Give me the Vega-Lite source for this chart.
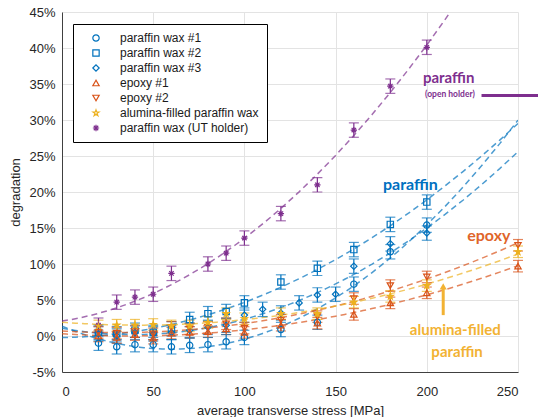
{
  "$schema": "https://vega.github.io/schema/vega-lite/v6.json",
  "width": 456,
  "height": 360,
  "autosize": {"type": "none"},
  "padding": {"left": 62, "top": 12, "right": 20, "bottom": 45},
  "background": "white",
  "config": {
    "view": {"stroke": null},
    "font": "Liberation Sans",
    "axis": {
      "gridColor": "#e3e3e3",
      "domainColor": "#404040",
      "tickColor": "#404040",
      "labelColor": "#262626",
      "titleColor": "#262626",
      "labelFontSize": 13,
      "titleFontSize": 13,
      "titleFontWeight": "normal",
      "labelFont": "Liberation Sans",
      "titleFont": "Liberation Sans",
      "labelOverlap": false,
      "ticks": false
    }
  },
  "resolve": {"legend": {"color": "independent", "shape": "independent"}},
  "datasets": {
    "pts": [
      {"series": "paraffin wax #1", "x": 20, "y": -1.0, "err": 1.0},
      {"series": "paraffin wax #1", "x": 30, "y": -1.5, "err": 1.0},
      {"series": "paraffin wax #1", "x": 40, "y": -1.2, "err": 1.0},
      {"series": "paraffin wax #1", "x": 50, "y": -1.2, "err": 1.0},
      {"series": "paraffin wax #1", "x": 60, "y": -1.5, "err": 1.0},
      {"series": "paraffin wax #1", "x": 70, "y": -1.3, "err": 1.0},
      {"series": "paraffin wax #1", "x": 80, "y": -1.2, "err": 1.0},
      {"series": "paraffin wax #1", "x": 90, "y": -0.8, "err": 1.0},
      {"series": "paraffin wax #1", "x": 100, "y": -0.2, "err": 1.0},
      {"series": "paraffin wax #1", "x": 120, "y": 0.9, "err": 1.0},
      {"series": "paraffin wax #1", "x": 140, "y": 1.9, "err": 1.0},
      {"series": "paraffin wax #1", "x": 160, "y": 7.2, "err": 1.0},
      {"series": "paraffin wax #1", "x": 180, "y": 11.7, "err": 1.0},
      {"series": "paraffin wax #1", "x": 200, "y": 15.4, "err": 1.0},
      {"series": "paraffin wax #2", "x": 20, "y": 0.5, "err": 1.0},
      {"series": "paraffin wax #2", "x": 30, "y": 0.3, "err": 1.0},
      {"series": "paraffin wax #2", "x": 40, "y": 0.8, "err": 1.0},
      {"series": "paraffin wax #2", "x": 50, "y": 0.5, "err": 1.0},
      {"series": "paraffin wax #2", "x": 60, "y": 1.0, "err": 1.0},
      {"series": "paraffin wax #2", "x": 70, "y": 2.3, "err": 1.0},
      {"series": "paraffin wax #2", "x": 80, "y": 3.1, "err": 1.0},
      {"series": "paraffin wax #2", "x": 90, "y": 3.4, "err": 1.0},
      {"series": "paraffin wax #2", "x": 100, "y": 4.6, "err": 1.0},
      {"series": "paraffin wax #2", "x": 120, "y": 7.5, "err": 1.0},
      {"series": "paraffin wax #2", "x": 140, "y": 9.4, "err": 1.0},
      {"series": "paraffin wax #2", "x": 160, "y": 12.0, "err": 1.0},
      {"series": "paraffin wax #2", "x": 180, "y": 15.5, "err": 1.0},
      {"series": "paraffin wax #2", "x": 200, "y": 18.6, "err": 1.0},
      {"series": "paraffin wax #3", "x": 20, "y": 0.3, "err": 1.0},
      {"series": "paraffin wax #3", "x": 30, "y": 0.0, "err": 1.0},
      {"series": "paraffin wax #3", "x": 40, "y": 0.5, "err": 1.0},
      {"series": "paraffin wax #3", "x": 50, "y": 0.3, "err": 1.0},
      {"series": "paraffin wax #3", "x": 60, "y": 0.5, "err": 1.0},
      {"series": "paraffin wax #3", "x": 70, "y": 0.8, "err": 1.0},
      {"series": "paraffin wax #3", "x": 80, "y": 1.2, "err": 1.0},
      {"series": "paraffin wax #3", "x": 90, "y": 1.5, "err": 1.0},
      {"series": "paraffin wax #3", "x": 100, "y": 2.9, "err": 1.0},
      {"series": "paraffin wax #3", "x": 110, "y": 3.7, "err": 1.0},
      {"series": "paraffin wax #3", "x": 120, "y": 3.2, "err": 1.0},
      {"series": "paraffin wax #3", "x": 130, "y": 4.6, "err": 1.0},
      {"series": "paraffin wax #3", "x": 140, "y": 5.7, "err": 1.0},
      {"series": "paraffin wax #3", "x": 150, "y": 5.8, "err": 1.0},
      {"series": "paraffin wax #3", "x": 160, "y": 9.7, "err": 1.0},
      {"series": "paraffin wax #3", "x": 180, "y": 12.8, "err": 1.0},
      {"series": "paraffin wax #3", "x": 200, "y": 14.3, "err": 1.0},
      {"series": "epoxy #1", "x": 20, "y": 0.0, "err": 0.8},
      {"series": "epoxy #1", "x": 30, "y": -0.2, "err": 0.8},
      {"series": "epoxy #1", "x": 40, "y": 0.2, "err": 0.8},
      {"series": "epoxy #1", "x": 50, "y": -0.3, "err": 0.8},
      {"series": "epoxy #1", "x": 60, "y": 0.4, "err": 0.8},
      {"series": "epoxy #1", "x": 70, "y": 0.5, "err": 0.8},
      {"series": "epoxy #1", "x": 80, "y": 0.6, "err": 0.8},
      {"series": "epoxy #1", "x": 90, "y": 1.0, "err": 0.8},
      {"series": "epoxy #1", "x": 100, "y": 0.5, "err": 0.8},
      {"series": "epoxy #1", "x": 120, "y": 1.5, "err": 0.8},
      {"series": "epoxy #1", "x": 140, "y": 1.8, "err": 0.8},
      {"series": "epoxy #1", "x": 160, "y": 3.0, "err": 0.8},
      {"series": "epoxy #1", "x": 180, "y": 4.6, "err": 0.8},
      {"series": "epoxy #1", "x": 200, "y": 6.0, "err": 0.8},
      {"series": "epoxy #1", "x": 250, "y": 9.7, "err": 0.8},
      {"series": "epoxy #2", "x": 20, "y": 0.5, "err": 0.8},
      {"series": "epoxy #2", "x": 30, "y": 0.4, "err": 0.8},
      {"series": "epoxy #2", "x": 40, "y": 0.6, "err": 0.8},
      {"series": "epoxy #2", "x": 50, "y": 0.3, "err": 0.8},
      {"series": "epoxy #2", "x": 60, "y": 1.2, "err": 0.8},
      {"series": "epoxy #2", "x": 70, "y": 1.0, "err": 0.8},
      {"series": "epoxy #2", "x": 80, "y": 1.2, "err": 0.8},
      {"series": "epoxy #2", "x": 90, "y": 1.7, "err": 0.8},
      {"series": "epoxy #2", "x": 100, "y": 1.1, "err": 0.8},
      {"series": "epoxy #2", "x": 120, "y": 2.2, "err": 0.8},
      {"series": "epoxy #2", "x": 140, "y": 2.7, "err": 0.8},
      {"series": "epoxy #2", "x": 160, "y": 5.2, "err": 0.8},
      {"series": "epoxy #2", "x": 180, "y": 7.0, "err": 0.8},
      {"series": "epoxy #2", "x": 200, "y": 8.2, "err": 0.8},
      {"series": "epoxy #2", "x": 250, "y": 12.6, "err": 0.8},
      {"series": "alumina-filled paraffin wax", "x": 20, "y": 1.4, "err": 0.8},
      {"series": "alumina-filled paraffin wax", "x": 30, "y": 1.5, "err": 0.8},
      {"series": "alumina-filled paraffin wax", "x": 40, "y": 1.5, "err": 0.8},
      {"series": "alumina-filled paraffin wax", "x": 50, "y": 1.6, "err": 0.8},
      {"series": "alumina-filled paraffin wax", "x": 60, "y": 1.4, "err": 0.8},
      {"series": "alumina-filled paraffin wax", "x": 70, "y": 1.4, "err": 0.8},
      {"series": "alumina-filled paraffin wax", "x": 80, "y": 1.9, "err": 0.8},
      {"series": "alumina-filled paraffin wax", "x": 90, "y": 3.1, "err": 0.8},
      {"series": "alumina-filled paraffin wax", "x": 100, "y": 2.4, "err": 0.8},
      {"series": "alumina-filled paraffin wax", "x": 120, "y": 3.1, "err": 0.8},
      {"series": "alumina-filled paraffin wax", "x": 140, "y": 3.1, "err": 0.8},
      {"series": "alumina-filled paraffin wax", "x": 160, "y": 4.7, "err": 0.8},
      {"series": "alumina-filled paraffin wax", "x": 180, "y": 5.5, "err": 0.8},
      {"series": "alumina-filled paraffin wax", "x": 200, "y": 7.0, "err": 0.8},
      {"series": "alumina-filled paraffin wax", "x": 250, "y": 11.7, "err": 0.8},
      {"series": "paraffin wax (UT holder)", "x": 20, "y": 1.5, "err": 1.0},
      {"series": "paraffin wax (UT holder)", "x": 30, "y": 4.7, "err": 1.0},
      {"series": "paraffin wax (UT holder)", "x": 40, "y": 5.4, "err": 1.0},
      {"series": "paraffin wax (UT holder)", "x": 50, "y": 5.8, "err": 1.0},
      {"series": "paraffin wax (UT holder)", "x": 60, "y": 8.7, "err": 1.0},
      {"series": "paraffin wax (UT holder)", "x": 80, "y": 10.0, "err": 1.0},
      {"series": "paraffin wax (UT holder)", "x": 90, "y": 11.5, "err": 1.0},
      {"series": "paraffin wax (UT holder)", "x": 100, "y": 13.6, "err": 1.0},
      {"series": "paraffin wax (UT holder)", "x": 120, "y": 17.0, "err": 1.0},
      {"series": "paraffin wax (UT holder)", "x": 140, "y": 21.0, "err": 1.0},
      {"series": "paraffin wax (UT holder)", "x": 160, "y": 28.6, "err": 1.0},
      {"series": "paraffin wax (UT holder)", "x": 180, "y": 34.7, "err": 1.0},
      {"series": "paraffin wax (UT holder)", "x": 200, "y": 40.1, "err": 1.0}
    ],
    "one": [{"n": 1}]
  },
  "layer": [
    {
      "data": {"name": "pts"},
      "transform": [
        {"regression": "y", "on": "x", "groupby": ["series"], "method": "poly", "order": 2, "extent": [0, 250]}
      ],
      "mark": {"type": "line", "strokeDash": [6, 4], "strokeWidth": 1.5, "opacity": 0.7, "clip": true},
      "encoding": {
        "x": {"field": "x", "type": "quantitative", "title": "average transverse stress [MPa]", "scale": {"domain": [0, 250], "nice": false},
          "axis": {"values": [0, 50, 100, 150, 200, 250], "title": "average transverse stress [MPa]", "labelPadding": 13, "titlePadding": 6, "labelOverlap": false}},
        "y": {"field": "y", "type": "quantitative", "title": "degradation", "scale": {"domain": [-5, 45], "nice": false},
          "axis": {"values": [-5, 0, 5, 10, 15, 20, 25, 30, 35, 40, 45], "labelExpr": "datum.value + '%'", "title": "degradation", "labelPadding": 7, "titlePadding": 6, "labelOverlap": false}},
        "color": {
          "field": "series", "type": "nominal",
          "scale": {
            "domain": ["paraffin wax #1", "paraffin wax #2", "paraffin wax #3", "epoxy #1", "epoxy #2", "alumina-filled paraffin wax", "paraffin wax (UT holder)"],
            "range": ["#0072BD", "#0072BD", "#0072BD", "#D95319", "#D95319", "#EDB120", "#7E2F8E"]
          },
          "legend": null
        }
      }
    },
    {
      "data": {"name": "pts"},
      "mark": {"type": "errorbar", "ticks": {"size": 10}, "thickness": 1.2},
      "encoding": {
        "x": {"field": "x", "type": "quantitative", "title": "average transverse stress [MPa]",
          "axis": {"values": [0, 50, 100, 150, 200, 250], "title": "average transverse stress [MPa]", "labelPadding": 13, "titlePadding": 6, "labelOverlap": false}},
        "y": {"field": "y", "type": "quantitative", "title": "degradation",
          "axis": {"values": [-5, 0, 5, 10, 15, 20, 25, 30, 35, 40, 45], "labelExpr": "datum.value + '%'", "title": "degradation", "labelPadding": 7, "titlePadding": 6, "labelOverlap": false}},
        "yError": {"field": "err"},
        "color": {"field": "series", "type": "nominal", "legend": null}
      }
    },
    {
      "data": {"name": "pts"},
      "mark": {"type": "point", "filled": false, "size": 40, "strokeWidth": 1.2, "opacity": 1},
      "encoding": {
        "x": {"field": "x", "type": "quantitative", "title": "average transverse stress [MPa]",
          "axis": {"values": [0, 50, 100, 150, 200, 250], "title": "average transverse stress [MPa]", "labelPadding": 13, "titlePadding": 6, "labelOverlap": false}},
        "y": {"field": "y", "type": "quantitative", "title": "degradation",
          "axis": {"values": [-5, 0, 5, 10, 15, 20, 25, 30, 35, 40, 45], "labelExpr": "datum.value + '%'", "title": "degradation", "labelPadding": 7, "titlePadding": 6, "labelOverlap": false}},
        "color": {
          "field": "series", "type": "nominal",
          "legend": {
            "title": null, "orient": "none", "legendX": 11, "legendY": 12,
            "strokeColor": "#000000", "fillColor": "#ffffff", "padding": 8,
            "labelFont": "Liberation Sans", "labelFontSize": 12, "labelColor": "#1a1a1a",
            "rowPadding": 3, "symbolOffset": 9, "labelOffset": 18, "symbolStrokeWidth": 1.2, "symbolSize": 40, "labelLimit": 300
          }
        },
        "shape": {
          "field": "series", "type": "nominal",
          "scale": {
            "domain": ["paraffin wax #1", "paraffin wax #2", "paraffin wax #3", "epoxy #1", "epoxy #2", "alumina-filled paraffin wax", "paraffin wax (UT holder)"],
            "range": ["circle", "square", "diamond", "triangle-up", "triangle-down", "M0,-1L0.2245,-0.309L0.951,-0.309L0.363,0.118L0.588,0.809L0,0.382L-0.588,0.809L-0.363,0.118L-0.951,-0.309L-0.2245,-0.309Z", "M-1,0L1,0M0,-1L0,1M-0.7,-0.7L0.7,0.7M-0.7,0.7L0.7,-0.7"]
          },
          "legend": {
            "title": null, "orient": "none", "legendX": 11, "legendY": 12,
            "strokeColor": "#000000", "fillColor": "#ffffff", "padding": 8,
            "labelFont": "Liberation Sans", "labelFontSize": 12, "labelColor": "#1a1a1a",
            "rowPadding": 3, "symbolOffset": 9, "labelOffset": 18, "symbolStrokeWidth": 1.2, "symbolSize": 40, "labelLimit": 300
          }
        }
      }
    },
    {
      "data": {"name": "pts"},
      "transform": [{"filter": "datum.series === 'alumina-filled paraffin wax'"}],
      "mark": {"type": "point", "filled": true, "size": 60, "color": "#EDB120", "shape": "M0,-1L0.2245,-0.309L0.951,-0.309L0.363,0.118L0.588,0.809L0,0.382L-0.588,0.809L-0.363,0.118L-0.951,-0.309L-0.2245,-0.309Z", "opacity": 1},
      "encoding": {
        "x": {"field": "x", "type": "quantitative", "title": "average transverse stress [MPa]",
          "axis": {"values": [0, 50, 100, 150, 200, 250], "title": "average transverse stress [MPa]", "labelPadding": 13, "titlePadding": 6, "labelOverlap": false}},
        "y": {"field": "y", "type": "quantitative", "title": "degradation",
          "axis": {"values": [-5, 0, 5, 10, 15, 20, 25, 30, 35, 40, 45], "labelExpr": "datum.value + '%'", "title": "degradation", "labelPadding": 7, "titlePadding": 6, "labelOverlap": false}}
      }
    },
    {
      "data": {"name": "one"},
      "mark": {"type": "text", "text": "paraffin", "font": "Lato", "fontWeight": "bold", "fontSize": 16, "color": "#0070C0"},
      "encoding": {
        "x": {"datum": 191, "type": "quantitative", "title": "average transverse stress [MPa]", "axis": {"values": [0, 50, 100, 150, 200, 250], "title": "average transverse stress [MPa]", "labelPadding": 13, "titlePadding": 6, "labelOverlap": false}},
        "y": {"datum": 21, "type": "quantitative", "title": "degradation", "axis": {"values": [-5, 0, 5, 10, 15, 20, 25, 30, 35, 40, 45], "labelExpr": "datum.value + '%'", "title": "degradation", "labelPadding": 7, "titlePadding": 6, "labelOverlap": false}}
      }
    },
    {
      "data": {"name": "one"},
      "mark": {"type": "text", "text": "epoxy", "font": "Lato", "fontWeight": "bold", "fontSize": 16, "color": "#E0652A"},
      "encoding": {
        "x": {"datum": 234, "type": "quantitative", "title": "average transverse stress [MPa]", "axis": {"values": [0, 50, 100, 150, 200, 250], "title": "average transverse stress [MPa]", "labelPadding": 13, "titlePadding": 6, "labelOverlap": false}},
        "y": {"datum": 13.9, "type": "quantitative", "title": "degradation", "axis": {"values": [-5, 0, 5, 10, 15, 20, 25, 30, 35, 40, 45], "labelExpr": "datum.value + '%'", "title": "degradation", "labelPadding": 7, "titlePadding": 6, "labelOverlap": false}}
      }
    },
    {
      "data": {"name": "one"},
      "mark": {"type": "text", "text": "alumina-filled", "font": "Lato", "fontWeight": "bold", "fontSize": 15, "color": "#F2B233"},
      "encoding": {
        "x": {"datum": 215.6, "type": "quantitative", "title": "average transverse stress [MPa]", "axis": {"values": [0, 50, 100, 150, 200, 250], "title": "average transverse stress [MPa]", "labelPadding": 13, "titlePadding": 6, "labelOverlap": false}},
        "y": {"datum": 0.8, "type": "quantitative", "title": "degradation", "axis": {"values": [-5, 0, 5, 10, 15, 20, 25, 30, 35, 40, 45], "labelExpr": "datum.value + '%'", "title": "degradation", "labelPadding": 7, "titlePadding": 6, "labelOverlap": false}}
      }
    },
    {
      "data": {"name": "one"},
      "mark": {"type": "text", "text": "paraffin", "font": "Lato", "fontWeight": "bold", "fontSize": 15, "color": "#F2B233"},
      "encoding": {
        "x": {"datum": 216.6, "type": "quantitative", "title": "average transverse stress [MPa]", "axis": {"values": [0, 50, 100, 150, 200, 250], "title": "average transverse stress [MPa]", "labelPadding": 13, "titlePadding": 6, "labelOverlap": false}},
        "y": {"datum": -2.2, "type": "quantitative", "title": "degradation", "axis": {"values": [-5, 0, 5, 10, 15, 20, 25, 30, 35, 40, 45], "labelExpr": "datum.value + '%'", "title": "degradation", "labelPadding": 7, "titlePadding": 6, "labelOverlap": false}}
      }
    },
    {
      "data": {"name": "one"},
      "mark": {"type": "rule", "strokeWidth": 3, "color": "#F2B233"},
      "encoding": {
        "x": {"datum": 209, "type": "quantitative", "title": "average transverse stress [MPa]", "axis": {"values": [0, 50, 100, 150, 200, 250], "title": "average transverse stress [MPa]", "labelPadding": 13, "titlePadding": 6, "labelOverlap": false}},
        "y": {"datum": 2.9, "type": "quantitative", "title": "degradation", "axis": {"values": [-5, 0, 5, 10, 15, 20, 25, 30, 35, 40, 45], "labelExpr": "datum.value + '%'", "title": "degradation", "labelPadding": 7, "titlePadding": 6, "labelOverlap": false}},
        "y2": {"datum": 6.6}
      }
    },
    {
      "data": {"name": "one"},
      "mark": {"type": "point", "shape": "triangle-up", "filled": true, "size": 50, "color": "#F2B233", "opacity": 1},
      "encoding": {
        "x": {"datum": 209, "type": "quantitative", "title": "average transverse stress [MPa]", "axis": {"values": [0, 50, 100, 150, 200, 250], "title": "average transverse stress [MPa]", "labelPadding": 13, "titlePadding": 6, "labelOverlap": false}},
        "y": {"datum": 6.9, "type": "quantitative", "title": "degradation", "axis": {"values": [-5, 0, 5, 10, 15, 20, 25, 30, 35, 40, 45], "labelExpr": "datum.value + '%'", "title": "degradation", "labelPadding": 7, "titlePadding": 6, "labelOverlap": false}}
      }
    },
    {
      "data": {"name": "one"},
      "mark": {"type": "text", "text": "paraffin", "font": "Lato", "fontWeight": "bold", "fontSize": 15, "color": "#7E2F8E"},
      "encoding": {
        "x": {"datum": 212, "type": "quantitative", "title": "average transverse stress [MPa]", "axis": {"values": [0, 50, 100, 150, 200, 250], "title": "average transverse stress [MPa]", "labelPadding": 13, "titlePadding": 6, "labelOverlap": false}},
        "y": {"datum": 35.8, "type": "quantitative", "title": "degradation", "axis": {"values": [-5, 0, 5, 10, 15, 20, 25, 30, 35, 40, 45], "labelExpr": "datum.value + '%'", "title": "degradation", "labelPadding": 7, "titlePadding": 6, "labelOverlap": false}}
      }
    },
    {
      "data": {"name": "one"},
      "mark": {"type": "text", "text": "(open holder)", "font": "Lato", "fontWeight": "bold", "fontSize": 8.5, "color": "#7E2F8E"},
      "encoding": {
        "x": {"datum": 212.7, "type": "quantitative", "title": "average transverse stress [MPa]", "axis": {"values": [0, 50, 100, 150, 200, 250], "title": "average transverse stress [MPa]", "labelPadding": 13, "titlePadding": 6, "labelOverlap": false}},
        "y": {"datum": 33.6, "type": "quantitative", "title": "degradation", "axis": {"values": [-5, 0, 5, 10, 15, 20, 25, 30, 35, 40, 45], "labelExpr": "datum.value + '%'", "title": "degradation", "labelPadding": 7, "titlePadding": 6, "labelOverlap": false}}
      }
    },
    {
      "data": {"name": "one"},
      "mark": {"type": "rule", "strokeWidth": 3, "color": "#7E2F8E", "clip": false},
      "encoding": {
        "x": {"datum": 230, "type": "quantitative", "title": "average transverse stress [MPa]", "axis": {"values": [0, 50, 100, 150, 200, 250], "title": "average transverse stress [MPa]", "labelPadding": 13, "titlePadding": 6, "labelOverlap": false}},
        "x2": {"datum": 262},
        "y": {"datum": 33.4, "type": "quantitative", "title": "degradation", "axis": {"values": [-5, 0, 5, 10, 15, 20, 25, 30, 35, 40, 45], "labelExpr": "datum.value + '%'", "title": "degradation", "labelPadding": 7, "titlePadding": 6, "labelOverlap": false}}
      }
    }
  ]
}
